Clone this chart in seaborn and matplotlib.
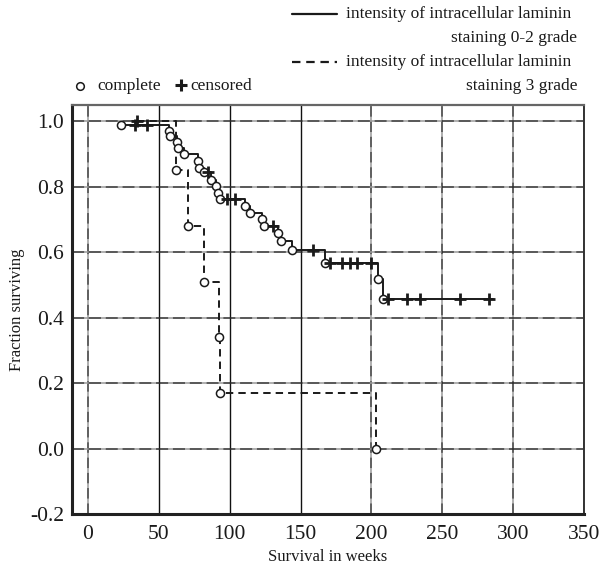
import matplotlib
matplotlib.use("Agg")
import matplotlib.pyplot as plt
from matplotlib.lines import Line2D
from matplotlib.ticker import FormatStrFormatter
import seaborn as sns

# Kaplan-Meier estimate, intracellular laminin staining grade 0-2
low_event_weeks = [23, 57, 58, 62.5, 63.5, 67.5, 77.5, 78.5, 81.5, 86.8, 90, 92, 93,
                   111, 114, 123, 124, 134, 136, 144, 167.5, 204.5, 208.5]
low_event_surv = [0.990, 0.972, 0.954, 0.937, 0.920, 0.900, 0.880, 0.858, 0.844, 0.822,
                  0.802, 0.782, 0.763, 0.742, 0.720, 0.701, 0.680, 0.658, 0.634, 0.606,
                  0.568, 0.517, 0.457]
low_censored_weeks = [33, 41.5, 85, 98, 104, 130.5, 159, 171, 179, 185, 190, 199.5,
                      212, 225, 234, 262.5, 283]
low_censored_surv = [0.990, 0.990, 0.844, 0.763, 0.763, 0.680, 0.606, 0.568, 0.568,
                     0.568, 0.568, 0.568, 0.457, 0.457, 0.457, 0.457, 0.457]
low_last_week = 285.5

# Kaplan-Meier estimate, intracellular laminin staining grade 3
high_start_week = 34.5
high_start_surv = 1.0
high_event_weeks = [62, 70.5, 82, 92.2, 92.9, 203]
high_event_surv = [0.85, 0.68, 0.51, 0.34, 0.17, 0.0]
high_censored_weeks = [34.5]
high_censored_surv = [1.0]

x_ticks = [0, 50, 100, 150, 200, 250, 300, 350]
y_ticks = [-0.2, 0.0, 0.2, 0.4, 0.6, 0.8, 1.0]
x_label = "Survival in weeks"
y_label = "Fraction surviving"
low_label = ["intensity of intracellular laminin", "staining 0-2 grade"]
high_label = ["intensity of intracellular laminin", "staining 3 grade"]
marker_labels = ["complete", "censored"]

sns.set_style("white")
plt.rcParams["font.family"] = ["Liberation Serif", "DejaVu Serif"]
plt.rcParams["axes.unicode_minus"] = False

W, H = 609, 568
INK = "#1a1a1a"
fig = plt.figure(figsize=(W / 100, H / 100), dpi=100)
ax = fig.add_axes([72 / W, 1 - 514 / H, (584 - 72) / W, (514 - 105) / H])


def fx(px):
    return px / W


def fy(py):
    return 1 - py / H


# survival step curves
low_x = low_event_weeks + [low_last_week]
low_y = low_event_surv + [low_event_surv[-1]]
high_x = [high_start_week] + high_event_weeks
high_y = [high_start_surv] + high_event_surv

sns.lineplot(x=low_x, y=low_y, drawstyle="steps-post", estimator=None, sort=False,
             color=INK, linewidth=1.4, ax=ax, zorder=3)
sns.lineplot(x=high_x, y=high_y, drawstyle="steps-post", estimator=None, sort=False,
             color=INK, linewidth=1.4, linestyle=(0, (3.8, 2.6)), ax=ax, zorder=3)

# completed (event) and censored observations
ev_x = low_event_weeks + high_event_weeks
ev_y = low_event_surv + high_event_surv
cen_x = low_censored_weeks + high_censored_weeks
cen_y = low_censored_surv + high_censored_surv
sns.scatterplot(x=ev_x, y=ev_y, marker="o", s=34, facecolor="white",
                edgecolor=INK, linewidth=1.1, ax=ax, zorder=5)
sns.scatterplot(x=cen_x, y=cen_y, marker="+", s=70, color=INK,
                linewidth=2.0, ax=ax, zorder=6)

ax.set_xlim(-11.3, 350)
ax.set_ylim(-0.2, 1.05)
ax.set_xticks(x_ticks)
ax.set_yticks(y_ticks)
ax.yaxis.set_major_formatter(FormatStrFormatter("%.1f"))
ax.tick_params(length=0, labelsize=15.5, colors=INK)
ax.tick_params(axis="x", pad=8)
ax.tick_params(axis="y", pad=5.5)

# grid: a mix of solid and dashed rules
ax.grid(True, zorder=0)
for val, gl in zip(x_ticks, ax.get_xgridlines()):
    if val in (50, 100, 150):
        gl.set(color="#111111", linewidth=1.0, linestyle="-")
    else:
        gl.set(color="#333333", linewidth=1.1, linestyle=(0, (7, 3)))
        gl.set_gapcolor("#9a9a9a")
for val, gl in zip(y_ticks, ax.get_ygridlines()):
    gl.set(color="#2a2a2a", linewidth=1.1, linestyle=(0, (8, 3)))
    gl.set_gapcolor("#9a9a9a")

for side in ("left", "bottom"):
    ax.spines[side].set(color="#222222", linewidth=2.2)
ax.spines["top"].set(color="#666666", linewidth=1.6)
ax.spines["right"].set(color="#333333", linewidth=1.4)

ax.set_xlabel(x_label, fontsize=12, color=INK)
ax.set_ylabel(y_label, fontsize=12, color=INK)
ax.xaxis.set_label_coords(0.5, -0.085)
ax.yaxis.set_label_coords(-0.092, 0.5)

# legend drawn above the plot
LEG = 12.5
fig.add_artist(Line2D([fx(292), fx(337)], [fy(14), fy(14)], color=INK, linewidth=1.6,
                      transform=fig.transFigure))
fig.text(fx(346), fy(14), low_label[0], fontsize=LEG, color=INK, va="center", ha="left")
fig.text(fx(577), fy(38), low_label[1], fontsize=LEG, color=INK, va="center", ha="right")
fig.add_artist(Line2D([fx(292), fx(337)], [fy(62), fy(62)], color=INK, linewidth=1.6,
                      linestyle=(0, (3.8, 2.6)), transform=fig.transFigure))
fig.text(fx(346), fy(62), high_label[0], fontsize=LEG, color=INK, va="center", ha="left")
fig.text(fx(577), fy(86), high_label[1], fontsize=LEG, color=INK, va="center", ha="right")

fig.add_artist(Line2D([fx(80)], [fy(86)], marker="o", markersize=5.5, markerfacecolor="white",
                      markeredgecolor=INK, markeredgewidth=1.1, linestyle="none",
                      transform=fig.transFigure))
fig.text(fx(97), fy(86), marker_labels[0], fontsize=LEG, color=INK, va="center", ha="left")
fig.add_artist(Line2D([fx(181)], [fy(85)], marker="+", markersize=8, markeredgewidth=2.2,
                      color=INK, linestyle="none", transform=fig.transFigure))
fig.text(fx(190), fy(86), marker_labels[1], fontsize=LEG, color=INK, va="center", ha="left")

fig.savefig("out.png", dpi=100)
